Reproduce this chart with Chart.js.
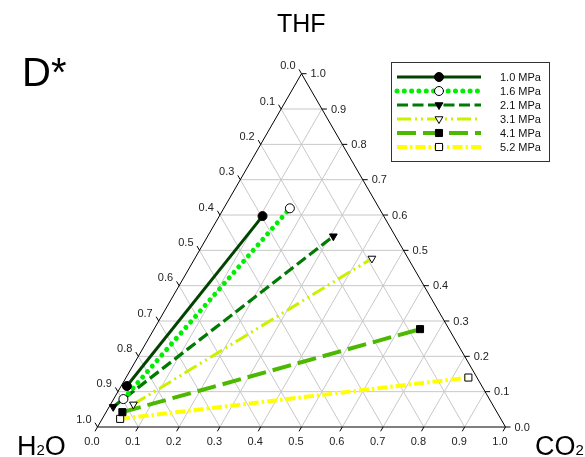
<!DOCTYPE html>
<html>
<head>
<meta charset="utf-8">
<script src="https://cdn.jsdelivr.net/npm/chart.js@4.4.0/dist/chart.umd.min.js"></script>
<style>
body { margin: 0; background: #fff; }
#wrap { position: relative; width: 585px; height: 457px; }
.lbl { position: absolute; font-family: "Liberation Sans", Arial, sans-serif; color: #000; line-height: 1; white-space: nowrap; }
</style>
</head>
<body>
<div id="wrap">
  <canvas id="chart" width="585" height="457"></canvas>
  <div class="lbl" style="left:277px; top:11px; font-size:25px;">THF</div>
  <div class="lbl" style="left:22px; top:52px; font-size:40px;">D*</div>
  <div class="lbl" style="left:17px; top:433px; font-size:27px;">H<span style="font-size:15px">2</span>O</div>
  <div class="lbl" style="left:535px; top:433px; font-size:27px;">CO<span style="font-size:15px">2</span></div>
</div>
<script>
// pressures (legend)
const pressures = ['1.0 MPa', '1.6 MPa', '2.1 MPa', '3.1 MPa', '4.1 MPa', '5.2 MPa'];

// mole fractions, [H2O-rich end, other end]; H2O = 1 - CO2 - THF
const co2_10 = [0.014, 0.106];
const thf_10 = [0.116, 0.597];
const co2_16 = [0.024, 0.162];
const thf_16 = [0.079, 0.619];
const co2_21 = [0.010, 0.308];
const thf_21 = [0.057, 0.540];
const co2_31 = [0.056, 0.434];
const thf_31 = [0.064, 0.477];
const co2_41 = [0.040, 0.652];
const thf_41 = [0.042, 0.277];
const co2_52 = [0.044, 0.839];
const thf_52 = [0.023, 0.140];

const tickVals = [0, 0.1, 0.2, 0.3, 0.4, 0.5, 0.6, 0.7, 0.8, 0.9, 1.0];
const tickLabels = ['0.0', '0.1', '0.2', '0.3', '0.4', '0.5', '0.6', '0.7', '0.8', '0.9', '1.0'];

const S3 = Math.sqrt(3) / 2;
// ternary -> cartesian (CO2 to the right, THF up)
function tern(co2, thf) {
    return co2.map((c, i) => ({ x: c + thf[i] / 2, y: thf[i] * S3 }));
}

function series(label, co2, thf, color, width, dash, style, fill, radius, rot) {
    return {
        label: label,
        data: tern(co2, thf),
        showLine: true,
        borderColor: color,
        borderWidth: width,
        borderDash: dash,
        borderCapStyle: dash.length && dash[0] < 1 ? 'round' : 'butt',
        pointStyle: style,
        pointRotation: rot || 0,
        pointRadius: radius,
        pointBackgroundColor: fill,
        pointBorderColor: '#000',
        pointBorderWidth: 1,
        clip: false
    };
}

const FONT = '11px "Liberation Sans", Arial, sans-serif';

const ternaryFrame = {
    id: 'ternaryFrame',
    beforeDatasetsDraw(chart) {
        const ctx = chart.ctx;
        const sx = chart.scales.x, sy = chart.scales.y;
        const px = (c, t) => [sx.getPixelForValue(c + t / 2), sy.getPixelForValue(t * S3)];
        const seg = (a, b) => { ctx.moveTo(a[0], a[1]); ctx.lineTo(b[0], b[1]); };
        ctx.save();
        // grid
        ctx.strokeStyle = '#c8c8c8';
        ctx.lineWidth = 1;
        ctx.beginPath();
        for (let k = 1; k < 10; k++) {
            const v = tickVals[k];
            seg(px(0, v), px(1 - v, v));
            seg(px(v, 0), px(v, 1 - v));
            seg(px(1 - v, 0), px(0, 1 - v));
        }
        ctx.stroke();
        // triangle
        ctx.strokeStyle = '#000';
        ctx.beginPath();
        const a = px(0, 0), b = px(1, 0), c = px(0, 1);
        ctx.moveTo(a[0], a[1]); ctx.lineTo(b[0], b[1]); ctx.lineTo(c[0], c[1]); ctx.closePath();
        ctx.stroke();
        // ticks
        ctx.beginPath();
        tickVals.forEach(v => {
            let p = px(v, 0);
            seg(p, [p[0] - 2.5, p[1] + 4.3]);
            p = px(0, 1 - v);
            seg(p, [p[0] - 2.5, p[1] - 4.3]);
            p = px(1 - v, v);
            seg(p, [p[0] + 5, p[1]]);
        });
        ctx.stroke();
        // tick labels
        ctx.fillStyle = '#222';
        ctx.font = FONT;
        ctx.textBaseline = 'middle';
        tickVals.forEach((v, i) => {
            let p = px(v, 0);
            ctx.textAlign = 'center';
            ctx.fillText(tickLabels[i], p[0] - 5.5, p[1] + 15);
            p = px(0, 1 - v);
            ctx.textAlign = 'right';
            ctx.fillText(tickLabels[i], p[0] - 6, p[1] - 7.5);
            p = px(1 - v, v);
            ctx.textAlign = 'left';
            ctx.fillText(tickLabels[i], p[0] + 9, p[1] + 0.5);
        });
        ctx.restore();
    },
    afterDraw(chart) {
        const ctx = chart.ctx;
        ctx.save();
        ctx.strokeStyle = '#333';
        ctx.lineWidth = 1;
        ctx.strokeRect(391.5, 62.5, 158, 99);
        chart.data.datasets.forEach((ds, i) => {
            const y = 77 + i * 14;
            ctx.beginPath();
            ctx.strokeStyle = ds.borderColor;
            ctx.lineWidth = ds.borderWidth;
            ctx.lineCap = ds.borderCapStyle;
            ctx.setLineDash(ds.borderDash);
            ctx.moveTo(397, y);
            ctx.lineTo(481, y);
            ctx.stroke();
            ctx.setLineDash([]);
            ctx.fillStyle = ds.pointBackgroundColor;
            ctx.strokeStyle = '#000';
            ctx.lineWidth = 1;
            Chart.helpers.drawPoint(ctx, {
                pointStyle: ds.pointStyle,
                rotation: ds.pointRotation,
                radius: ds.pointRadius,
                borderWidth: 1
            }, 439, y);
            ctx.fillStyle = '#111';
            ctx.font = FONT;
            ctx.textAlign = 'left';
            ctx.textBaseline = 'middle';
            ctx.fillText(ds.label, 500, y + 0.5);
        });
        ctx.restore();
    }
};

new Chart(document.getElementById('chart'), {
    type: 'scatter',
    data: {
        datasets: [
            series(pressures[0], co2_10, thf_10, '#004400', 3, [], 'circle', '#000', 4.5),
            series(pressures[1], co2_16, thf_16, '#00ee00', 5, [0.01, 7.3], 'circle', '#fff', 4.5),
            series(pressures[2], co2_21, thf_21, '#007a00', 3.2, [11, 4.5], 'triangle', '#000', 4.5, 180),
            series(pressures[3], co2_31, thf_31, '#ccf000', 3, [14, 4, 2, 4, 2, 4], 'triangle', '#fff', 4.5, 180),
            series(pressures[4], co2_41, thf_41, '#4cb800', 4, [19, 7], 'rect', '#000', 5),
            series(pressures[5], co2_52, thf_52, '#ffff00', 4, [10, 3, 2.5, 3], 'rect', '#fff', 5)
        ]
    },
    options: {
        responsive: false,
        animation: false,
        events: [],
        layout: { padding: { left: 97.5, right: 79.5, top: 73.7, bottom: 30 } },
        scales: {
            x: { type: 'linear', min: 0, max: 1, display: false },
            y: { type: 'linear', min: 0, max: S3, display: false }
        },
        plugins: { legend: { display: false }, tooltip: { enabled: false } },
        elements: { line: { tension: 0 } }
    },
    plugins: [ternaryFrame]
});
</script>
</body>
</html>
